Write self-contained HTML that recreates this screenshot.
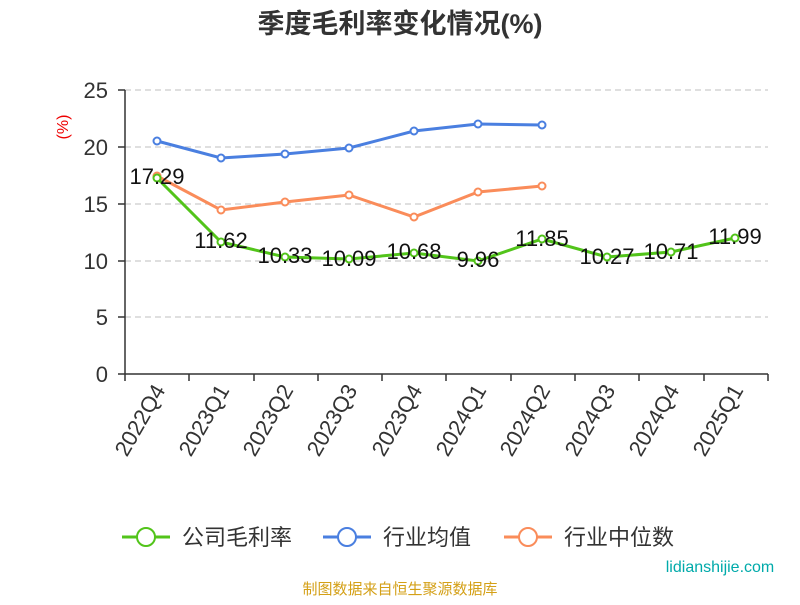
<!DOCTYPE html>
<html><head><meta charset="utf-8"><style>
body{margin:0;background:#fff;}
svg text{font-family:"Liberation Sans","Noto Sans CJK SC",sans-serif;}
</style></head><body>
<svg width="800" height="600" xmlns="http://www.w3.org/2000/svg">
<text x="400" y="33" text-anchor="middle" font-size="27" font-weight="bold" fill="#333">季度毛利率变化情况(%)</text>
<text x="68" y="127" text-anchor="middle" font-size="16" fill="#e00" transform="rotate(-90 68 127)">(%)</text>
<g stroke="#ccc" stroke-dasharray="6,4" stroke-width="1.2">
<line x1="125" x2="768" y1="90" y2="90"/><line x1="125" x2="768" y1="147" y2="147"/>
<line x1="125" x2="768" y1="204" y2="204"/><line x1="125" x2="768" y1="261" y2="261"/>
<line x1="125" x2="768" y1="317" y2="317"/>
</g>
<g stroke="#333" stroke-width="1.5">
<line x1="125" y1="90" x2="125" y2="374"/>
<line x1="125" y1="374" x2="768" y2="374"/>
<line x1="118" x2="125" y1="90" y2="90"/><line x1="118" x2="125" y1="147" y2="147"/><line x1="118" x2="125" y1="204" y2="204"/><line x1="118" x2="125" y1="261" y2="261"/><line x1="118" x2="125" y1="317" y2="317"/><line x1="118" x2="125" y1="374" y2="374"/>
<line x1="125" x2="125" y1="374" y2="381"/><line x1="189" x2="189" y1="374" y2="381"/><line x1="254" x2="254" y1="374" y2="381"/><line x1="318" x2="318" y1="374" y2="381"/><line x1="382" x2="382" y1="374" y2="381"/><line x1="446" x2="446" y1="374" y2="381"/><line x1="511" x2="511" y1="374" y2="381"/><line x1="575" x2="575" y1="374" y2="381"/><line x1="639" x2="639" y1="374" y2="381"/><line x1="704" x2="704" y1="374" y2="381"/><line x1="768" x2="768" y1="374" y2="381"/>
</g>
<g font-size="22" fill="#333" text-anchor="end">
<text x="108" y="98">25</text><text x="108" y="155">20</text><text x="108" y="212">15</text><text x="108" y="269">10</text><text x="108" y="325">5</text><text x="108" y="382">0</text>
</g>
<g font-size="22" fill="#333" text-anchor="end">
<text transform="translate(166 390) rotate(-60)">2022Q4</text>
<text transform="translate(230 390) rotate(-60)">2023Q1</text>
<text transform="translate(294 390) rotate(-60)">2023Q2</text>
<text transform="translate(358 390) rotate(-60)">2023Q3</text>
<text transform="translate(423 390) rotate(-60)">2023Q4</text>
<text transform="translate(487 390) rotate(-60)">2024Q1</text>
<text transform="translate(551 390) rotate(-60)">2024Q2</text>
<text transform="translate(616 390) rotate(-60)">2024Q3</text>
<text transform="translate(680 390) rotate(-60)">2024Q4</text>
<text transform="translate(744 390) rotate(-60)">2025Q1</text>
</g>
<g fill="#fff" stroke-width="2">
<polyline fill="none" stroke="#4a7fe0" stroke-width="3" points="157,141 221,158 285,154 349,148 414,131 478,124 542,125"/>
<g stroke="#4a7fe0"><circle cx="157" cy="141" r="3.5"/><circle cx="221" cy="158" r="3.5"/><circle cx="285" cy="154" r="3.5"/><circle cx="349" cy="148" r="3.5"/><circle cx="414" cy="131" r="3.5"/><circle cx="478" cy="124" r="3.5"/><circle cx="542" cy="125" r="3.5"/></g>
<polyline fill="none" stroke="#fa8c5a" stroke-width="3" points="157,176 221,210 285,202 349,195 414,217 478,192 542,186"/>
<g stroke="#fa8c5a"><circle cx="157" cy="176" r="3.5"/><circle cx="221" cy="210" r="3.5"/><circle cx="285" cy="202" r="3.5"/><circle cx="349" cy="195" r="3.5"/><circle cx="414" cy="217" r="3.5"/><circle cx="478" cy="192" r="3.5"/><circle cx="542" cy="186" r="3.5"/></g>
<polyline fill="none" stroke="#52c41a" stroke-width="3" points="157,178 221,242 285,257 349,259 414,253 478,261 542,239 607,257 671,252 735,238"/>
<g stroke="#52c41a"><circle cx="157" cy="178" r="3.5"/><circle cx="221" cy="242" r="3.5"/><circle cx="285" cy="257" r="3.5"/><circle cx="349" cy="259" r="3.5"/><circle cx="414" cy="253" r="3.5"/><circle cx="478" cy="261" r="3.5"/><circle cx="542" cy="239" r="3.5"/><circle cx="607" cy="257" r="3.5"/><circle cx="671" cy="252" r="3.5"/><circle cx="735" cy="238" r="3.5"/></g>
</g>
<g font-size="22" fill="#111" text-anchor="middle">
<text x="157" y="184">17.29</text><text x="221" y="248">11.62</text><text x="285" y="263">10.33</text><text x="349" y="266">10.09</text><text x="414" y="259">10.68</text><text x="478" y="267">9.96</text><text x="542" y="246">11.85</text><text x="607" y="264">10.27</text><text x="671" y="259">10.71</text><text x="735" y="244">11.99</text>
</g>
<g font-size="22" fill="#333" stroke-width="2">
<line x1="122" x2="170" y1="537" y2="537" stroke="#52c41a" stroke-width="3"/><circle cx="146" cy="537" r="9" fill="#fff" stroke="#52c41a"/><text x="182" y="545">公司毛利率</text>
<line x1="323" x2="371" y1="537" y2="537" stroke="#4a7fe0" stroke-width="3"/><circle cx="347" cy="537" r="9" fill="#fff" stroke="#4a7fe0"/><text x="383" y="545">行业均值</text>
<line x1="504" x2="552" y1="537" y2="537" stroke="#fa8c5a" stroke-width="3"/><circle cx="528" cy="537" r="9" fill="#fff" stroke="#fa8c5a"/><text x="564" y="545">行业中位数</text>
</g>
<text x="400" y="594" text-anchor="middle" font-size="15" fill="#d4a017">制图数据来自恒生聚源数据库</text>
<text x="720" y="572" text-anchor="middle" font-size="16" fill="#0aa">lidianshijie.com</text>
</svg>
</body></html>
